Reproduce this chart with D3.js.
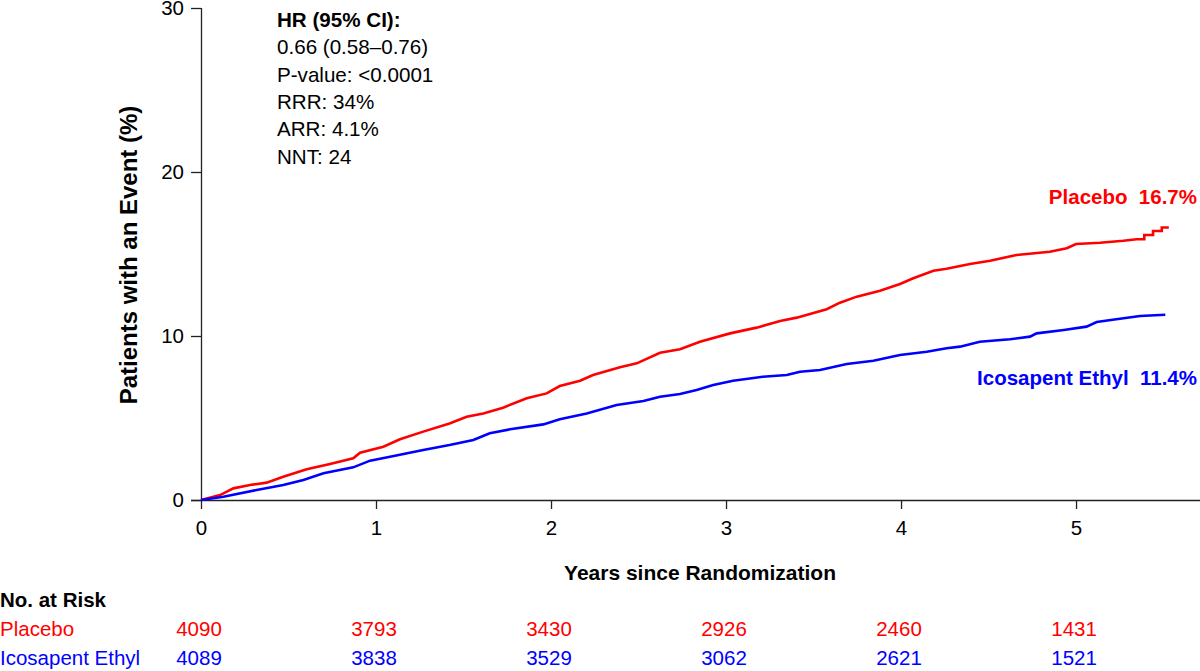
<!DOCTYPE html>
<html>
<head>
<meta charset="utf-8">
<script src="https://cdn.jsdelivr.net/npm/d3@7"></script>
<style>
  html, body { margin: 0; padding: 0; background: #fff; }
  svg { display: block; font-family: "Liberation Sans", Arial, sans-serif; }
  text { white-space: pre; }
</style>
</head>
<body>
<svg id="chart" width="1200" height="671"></svg>
<script>
// ---- Data ----
const xTicks = [0, 1, 2, 3, 4, 5];
const yTicks = [0, 10, 20, 30];

const placeboYears = [0, 0.109, 0.185, 0.28, 0.375, 0.47, 0.604, 0.737, 0.87, 0.909, 1.042, 1.137, 1.27, 1.42, 1.518, 1.613, 1.726, 1.861, 1.975, 2.05, 2.166, 2.24, 2.394, 2.49, 2.623, 2.737, 2.851, 3.023, 3.175, 3.309, 3.404, 3.575, 3.651, 3.747, 3.88, 3.994, 4.07, 4.185, 4.26, 4.394, 4.509, 4.66, 4.85, 4.947, 5.0, 5.137, 5.27, 5.347, 5.39, 5.39, 5.44, 5.44, 5.49, 5.49, 5.53];
const placeboPct   = [0, 0.30, 0.71, 0.91, 1.06, 1.42, 1.87, 2.20, 2.54, 2.88, 3.25, 3.70, 4.17, 4.67, 5.08, 5.28, 5.63, 6.20, 6.50, 6.95, 7.27, 7.62, 8.09, 8.33, 8.98, 9.19, 9.65, 10.16, 10.51, 10.91, 11.12, 11.63, 12.03, 12.40, 12.76, 13.17, 13.52, 13.98, 14.10, 14.39, 14.59, 14.94, 15.14, 15.35, 15.61, 15.69, 15.81, 15.90, 15.90, 16.16, 16.16, 16.40, 16.40, 16.62, 16.62];

const iceYears = [0, 0.128, 0.318, 0.47, 0.585, 0.70, 0.87, 0.966, 1.08, 1.27, 1.42, 1.556, 1.65, 1.766, 1.956, 2.05, 2.204, 2.375, 2.528, 2.623, 2.737, 2.832, 2.927, 3.04, 3.21, 3.347, 3.423, 3.537, 3.69, 3.842, 3.994, 4.147, 4.26, 4.337, 4.45, 4.623, 4.737, 4.775, 4.93, 5.06, 5.118, 5.23, 5.366, 5.51];
const icePct   = [0, 0.20, 0.61, 0.91, 1.22, 1.63, 1.99, 2.40, 2.64, 3.05, 3.35, 3.66, 4.07, 4.31, 4.61, 4.92, 5.28, 5.79, 6.04, 6.30, 6.46, 6.71, 7.01, 7.27, 7.52, 7.62, 7.82, 7.93, 8.29, 8.49, 8.84, 9.04, 9.25, 9.35, 9.65, 9.80, 9.96, 10.16, 10.37, 10.57, 10.85, 11.02, 11.22, 11.30];

const seriesNames = ["Placebo", "Icosapent Ethyl"];
const seriesFinal = ["16.7%", "11.4%"];
const seriesColors = ["#ff0000", "#0000ff"];

const riskPlacebo = [4090, 3793, 3430, 2926, 2460, 1431];
const riskIce     = [4089, 3838, 3529, 3062, 2621, 1521];

const statTitle = "HR (95% CI):";
const statLines = ["0.66 (0.58\u20130.76)", "P-value: <0.0001", "RRR: 34%", "ARR: 4.1%", "NNT: 24"];

// ---- Chart ----
const svg = d3.select("#chart");
const x = d3.scaleLinear().domain([0, 5.714]).range([201, 1201]);
const y = d3.scaleLinear().domain([0, 30]).range([500, 8]);

const fontSize = 20.5;

// Y axis
const yAxis = svg.append("g").attr("transform", "translate(201,0)")
  .call(d3.axisLeft(y).tickValues(yTicks).tickSize(10).tickPadding(7).tickFormat(d3.format("d")));
// X axis
const xAxis = svg.append("g").attr("transform", "translate(0,500)")
  .call(d3.axisBottom(x).tickValues(xTicks).tickSize(9).tickPadding(11).tickFormat(d3.format("d")));

[yAxis, xAxis].forEach(g => {
  g.select(".domain").attr("stroke", "#222").attr("stroke-width", 1.3);
  g.selectAll(".tick line").attr("stroke", "#222").attr("stroke-width", 1.3);
  g.selectAll(".tick text").attr("font-size", fontSize).attr("fill", "#000")
    .attr("font-family", "Liberation Sans, Arial, sans-serif");
});
xAxis.select(".domain").attr("d", "M191,0.5H1201");
yAxis.select(".domain").attr("d", "M0.5,8V500");

// Axis titles
svg.append("text")
  .attr("transform", `translate(137,255) rotate(-90)`)
  .attr("text-anchor", "middle")
  .attr("font-size", 24).attr("font-weight", "bold")
  .text("Patients with an Event (%)");

svg.append("text")
  .attr("x", 700).attr("y", 580)
  .attr("text-anchor", "middle")
  .attr("font-size", 21).attr("font-weight", "bold")
  .text("Years since Randomization");

// Curves
const line = d3.line().x(d => x(d[0])).y(d => y(d[1])).curve(d3.curveLinear);
const series = [
  d3.zip(placeboYears, placeboPct),
  d3.zip(iceYears, icePct)
];
series.forEach((s, i) => {
  svg.append("path").datum(s)
    .attr("fill", "none")
    .attr("stroke", seriesColors[i])
    .attr("stroke-width", 2.6)
    .attr("stroke-linejoin", "miter")
    .attr("d", line);
});

// End labels
svg.append("text").attr("x", 1197).attr("y", 204).attr("text-anchor", "end")
  .attr("font-size", fontSize).attr("font-weight", "bold").attr("fill", seriesColors[0])
  .text(seriesNames[0] + "  " + seriesFinal[0]);
svg.append("text").attr("x", 1197).attr("y", 385).attr("text-anchor", "end")
  .attr("font-size", fontSize).attr("font-weight", "bold").attr("fill", seriesColors[1])
  .text(seriesNames[1] + "  " + seriesFinal[1]);

// Stats box
svg.append("text").attr("x", 277).attr("y", 27)
  .attr("font-size", 20.6).attr("font-weight", "bold").text(statTitle);
statLines.forEach((t, i) => {
  svg.append("text").attr("x", 277).attr("y", 54.3 + i * 27.3)
    .attr("font-size", 20.6).text(t);
});

// Risk table
svg.append("text").attr("x", 0).attr("y", 607)
  .attr("font-size", fontSize).attr("font-weight", "bold").text("No. at Risk");
const rows = [riskPlacebo, riskIce];
rows.forEach((r, i) => {
  const yy = 636 + i * 29;
  svg.append("text").attr("x", 0).attr("y", yy)
    .attr("font-size", fontSize).attr("fill", seriesColors[i]).text(seriesNames[i]);
  svg.selectAll(null).data(r).enter().append("text")
    .attr("x", (d, j) => x(xTicks[j]) - 2)
    .attr("y", yy)
    .attr("text-anchor", "middle")
    .attr("font-size", fontSize).attr("fill", seriesColors[i])
    .text(d => d);
});
</script>
</body>
</html>
